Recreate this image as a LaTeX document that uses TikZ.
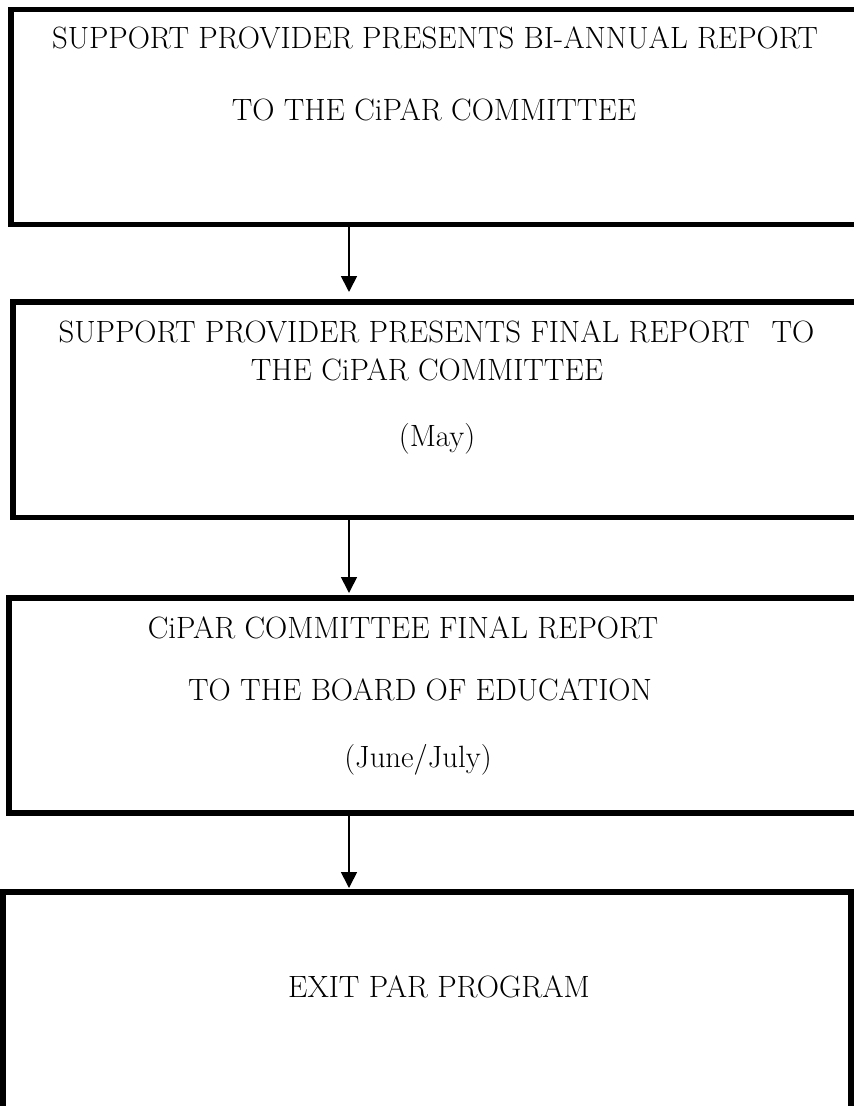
\documentclass[tikz,border=0pt]{standalone}
\usetikzlibrary{arrows.meta}
\begin{document}
\begin{tikzpicture}[x=1pt,y=-1pt,
  box/.style={draw=black,line width=5.7pt,rectangle,inner sep=0pt},
  txt/.style={anchor=base,inner sep=0pt,font=\fontsize{30.8}{36}\selectfont},
  arr/.style={draw=black,line width=1.7pt,-{Triangle[length=16pt,width=16pt]}}]
\useasboundingbox (0,0) rectangle (854,1106);
\clip (0,0) rectangle (854,1106);
% boxes
\node[box,minimum width=855pt,minimum height=215pt] (b1) at (438.5,117) {};
\node[box,minimum width=853pt,minimum height=215.5pt] (b2) at (439.5,409.75) {};
\node[box,minimum width=848pt,minimum height=215pt] (b3) at (433,705.5) {};
\node[box,minimum width=848pt,minimum height=228pt] (b4) at (427,1006) {};
% texts
\node[txt] (t11) at (435,48) {SUPPORT PROVIDER PRESENTS BI-ANNUAL REPORT};
\node[txt] (t12) at (434,120) {TO THE CiPAR COMMITTEE};
\node[txt] (t21) at (436.5,342) {SUPPORT PROVIDER PRESENTS FINAL REPORT\hspace{22pt}TO};
\node[txt] (t22) at (427,380) {THE CiPAR COMMITTEE};
\node[txt] (t23) at (437,446) {(May)};
\node[txt] (t31) at (403,638) {CiPAR COMMITTEE FINAL REPORT};
\node[txt] (t32) at (420,700) {TO THE BOARD OF EDUCATION};
\node[txt] (t33) at (418,767) {(June/July)};
\node[txt] (t41) at (439,997) {EXIT PAR PROGRAM};
% arrows
\coordinate (e1) at (349,292);
\coordinate (e2) at (349,593);
\coordinate (e3) at (349,888);
\draw[arr] (b1.south -| e1) -- (e1);
\draw[arr] (b2.south -| e2) -- (e2);
\draw[arr] (b3.south -| e3) -- (e3);
\end{tikzpicture}
\end{document}
